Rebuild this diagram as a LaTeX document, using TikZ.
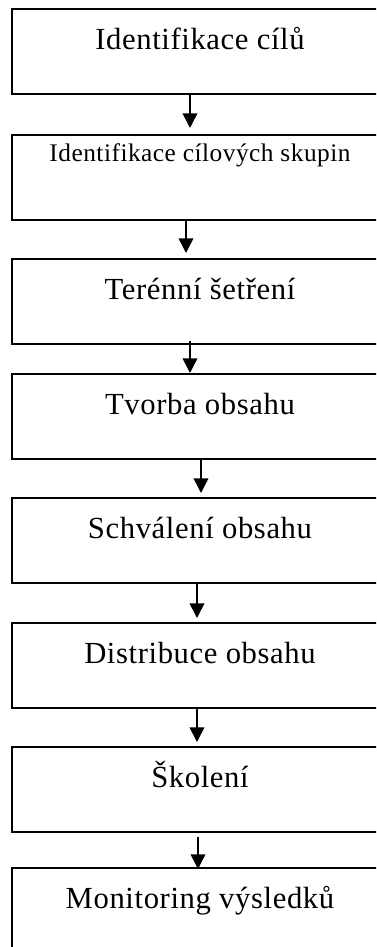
\documentclass[tikz,border=0pt]{standalone}
\usepackage{fontspec}
\setmainfont{Liberation Serif}
\usetikzlibrary{positioning}
\usetikzlibrary{calc, arrows.meta}

\tikzset{
  box/.style={draw, line width=1.2pt, inner sep=0pt, anchor=north, minimum width=282pt,
    text height=30.75pt, text depth=33pt,
    font=\fontsize{23}{26}\selectfont\addfontfeature{LetterSpace=2}},
  smallbox/.style={box, text height=20.25pt, text depth=43.5pt,
    font=\fontsize{19}{22}\selectfont\addfontfeature{LetterSpace=2}},
  flow/.style={-{Triangle[length=11pt,width=11pt]}, line width=1.2pt}
}

\begin{document}
\begin{tikzpicture}[x=0.75pt,y=-0.75pt]
\useasboundingbox (0,0) rectangle (376,947);
\clip (0,0) rectangle (376,947);
\fill[white] (0,0) rectangle (376,947);

\node[box] (cile) at (200,8) {Identifikace cílů};
\node[smallbox] (skupiny) at (200,134) {Identifikace cílových skupin};
\node[box] (setreni) at (200,258) {Terénní šetření};
\node[box] (tvorba) at (200,373) {Tvorba obsahu};
\node[box] (schvaleni) at (200,497) {Schválení obsahu};
\node[box] (distribuce) at (200,622) {Distribuce obsahu};
\node[box] (skoleni) at (200,746) {Školení};
\node[box] (monitoring) at (200,867) {Monitoring výsledků};

\draw[flow] ($(cile.south)+(-10,0)$) -- ($(skupiny.north)+(-10,-6)$);
\draw[flow] ($(skupiny.south)+(-14,0)$) -- ($(setreni.north)+(-14,-5)$);
\draw[flow] ($(setreni.south)+(-10,-4)$) -- ($(tvorba.north)+(-10,0)$);
\draw[flow] ($(tvorba.south)+(1,0)$) -- ($(schvaleni.north)+(1,-4)$);
\draw[flow] ($(schvaleni.south)+(-3,0)$) -- ($(distribuce.north)+(-3,-4)$);
\draw[flow] ($(distribuce.south)+(-3,0)$) -- ($(skoleni.north)+(-3,-4)$);
\draw[flow] ($(skoleni.south)+(-2,4)$) -- ($(monitoring.north)+(-2,2)$);

\end{tikzpicture}
\end{document}
